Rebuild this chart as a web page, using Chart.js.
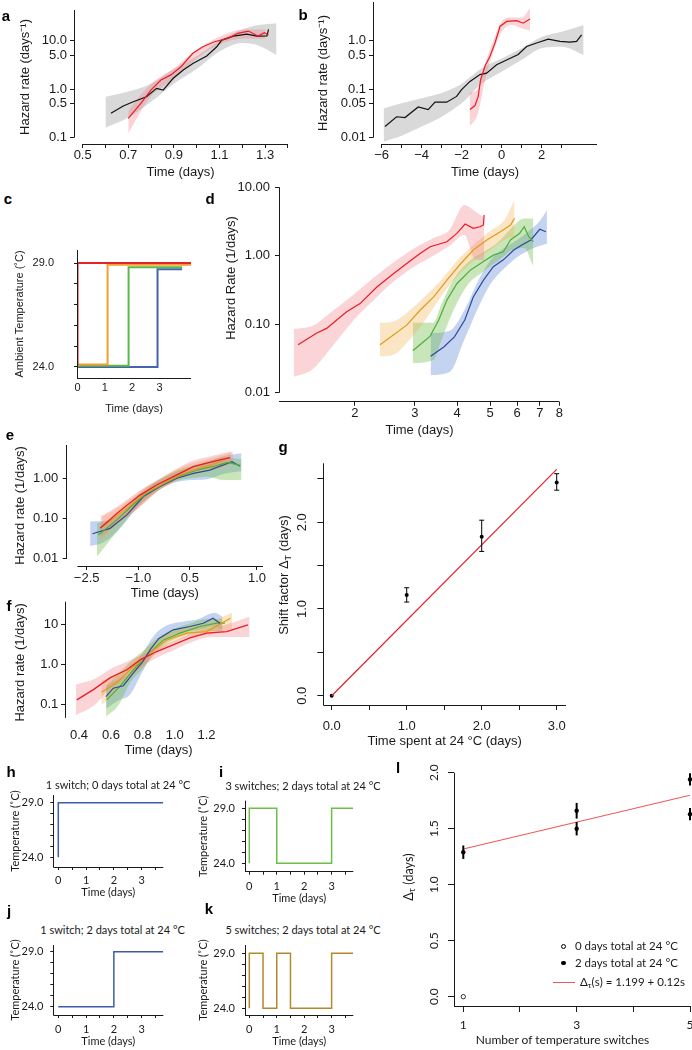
<!DOCTYPE html>
<html><head><meta charset="utf-8">
<script src="https://cdn.jsdelivr.net/npm/chart.js@4.4.1/dist/chart.umd.min.js"></script>
<style>
html,body{margin:0;padding:0;background:#fff;}
#fig{position:relative;width:692px;height:1050px;overflow:hidden;background:#fff;}
canvas{position:absolute;}
.t{position:absolute;white-space:nowrap;color:#1a1a1a;line-height:1;transform:translate(-50%,-50%);}
.r{transform:translate(-50%,-50%) rotate(-90deg);}
.A{font-family:'Liberation Sans',Arial,sans-serif;}
.M{font-family:Lato,'Open Sans',sans-serif;}
.P{font-family:'Liberation Sans',Arial,sans-serif;font-weight:bold;font-size:15px;color:#000;}
sub{font-size:70%;vertical-align:-0.25em;}
</style></head><body><div id="fig"></div>
<script>
// ---------------- data ----------------
// panel a
const aBlackX=[0.624,0.678,0.722,0.78,0.824,0.853,0.897,0.941,0.985,1.044,1.088,1.11,1.161,1.22,1.264,1.308,1.315];
const aBlackY=[0.32,0.45,0.55,0.70,1.04,0.96,1.68,2.49,3.42,4.84,7.5,10.3,12.4,13.7,12.4,12.5,17.2];
const aRedX=[0.70,0.755,0.799,0.843,0.887,0.931,0.983,1.027,1.078,1.137,1.18,1.227,1.268,1.297,1.315];
const aRedY=[0.25,0.51,0.96,1.55,1.97,2.9,5.5,7.5,9.5,11.2,14.2,15.8,12.5,14.6,13.1];
const aGrayBandX=[0.6,0.7,0.8,0.9,1.0,1.1,1.2,1.27,1.35];
const aGrayBandHi=[0.7,0.9,1.3,2.6,4.8,10,17,21,23];
const aGrayBandLo=[0.16,0.26,0.55,1.3,2.6,6.0,9.0,8.0,5.1];
const aRedBandX=[0.7,0.75,0.8,0.9,1.0,1.1,1.2,1.3];
const aRedBandHi=[0.36,0.72,1.3,2.7,6.5,12,17,17];
const aRedBandLo=[0.12,0.32,0.72,1.6,4.3,8.4,11,11];
const aXTicks=[0.5,0.6,0.7,0.8,0.9,1.0,1.1,1.2,1.3,1.4];
const aXLabels=['0.5','','0.7','','0.9','','1.1','','1.3',''];
const aYTicks=[0.1,0.5,1,5,10];
const aYLabels=['0.1','0.5','1.0','5.0','10.0'];
// panel b
const bBlackX=[-5.83,-5.25,-4.83,-4.17,-3.67,-3.33,-2.75,-2.25,-2.0,-1.58,-1.08,-0.75,-0.25,0.25,0.83,1.25,1.75,2.33,2.92,3.42,3.75,4.0];
const bBlackY=[0.017,0.027,0.026,0.043,0.038,0.054,0.054,0.071,0.098,0.145,0.2,0.215,0.32,0.4,0.52,0.76,0.9,1.08,0.97,0.94,0.97,1.32];
const bRedX=[-1.58,-1.33,-1.17,-1.05,-0.83,-0.58,-0.33,-0.08,0.25,0.75,1.08,1.42];
const bRedY=[0.038,0.046,0.071,0.157,0.30,0.48,0.9,1.97,2.5,2.6,2.3,2.8];
const bGrayBandX=[-5.9,-5,-4,-3,-2,-1,0,1,2,3,4.1];
const bGrayBandHi=[0.04,0.051,0.065,0.083,0.13,0.27,0.43,0.70,1.2,1.53,2.1];
const bGrayBandLo=[0.0083,0.011,0.017,0.027,0.051,0.13,0.23,0.40,0.70,0.75,0.51];
const bRedBandX=[-1.6,-1.2,-0.8,-0.4,0,0.5,1.0,1.42];
const bRedBandHi=[0.085,0.1,0.36,1.05,2.5,3.0,3.0,4.7];
const bRedBandLo=[0.017,0.03,0.17,0.62,1.5,2.1,1.8,1.6];
const bXTicks=[-6,-5,-4,-3,-2,-1,0,1,2,3];
const bXLabels=['\u22126','','\u22124','','\u22122','','0','','2',''];
const bYTicks=[0.01,0.05,0.1,0.5,1];
const bYLabels=['0.01','0.05','0.1','0.5','1.0'];
// panel c
const cRedX=[0,0,4.17], cRedY=[24.1,29.0,29.0];
const cOrangeX=[0,1.1,1.1,4.17], cOrangeY=[24.12,24.12,28.92,28.92];
const cGreenX=[0,1.87,1.87,3.83], cGreenY=[24.06,24.06,28.8,28.8];
const cBlueX=[0,2.93,2.93,3.83], cBlueY=[24.0,24.0,28.7,28.7];
const cXTicks=[0,1,2,3], cXLabels=['0','1','2','3'];
const cYTicks=[24,25,26,27,28,29], cYLabels=['24.0','','','','','29.0'];
// panel d
const dRedX=[1.36,1.54,1.65,1.89,2.07,2.32,2.60,2.84,3.11,3.33,3.73,3.99,4.22,4.46,4.67,4.78,4.80];
const dRedY=[0.050,0.074,0.087,0.152,0.20,0.35,0.55,0.77,1.08,1.35,1.60,2.12,2.90,2.51,2.65,2.81,3.93];
const dOrangeX=[2.37,2.60,2.84,3.11,3.41,3.73,4.10,4.46,4.89,5.36,5.74,5.9];
const dOrangeY=[0.050,0.070,0.097,0.16,0.25,0.44,0.77,1.21,1.70,2.24,2.81,3.5];
const dGreenX=[2.96,3.19,3.33,3.53,3.73,3.99,4.38,4.78,5.11,5.47,5.74,6.11,6.3,6.5,6.7];
const dGreenY=[0.041,0.056,0.067,0.115,0.225,0.39,0.62,0.82,1.02,1.14,1.70,2.12,2.65,1.89,1.6];
const dBlueX=[3.34,3.66,3.93,4.21,4.46,4.78,5.11,5.47,5.87,6.2,6.59,7.0,7.3];
const dBlueY=[0.034,0.047,0.066,0.115,0.25,0.44,0.69,0.87,1.21,1.43,1.70,2.43,2.24];
const dRedBandX=[1.32,1.5,1.7,2.0,2.3,2.6,3.0,3.4,3.8,4.2,4.5,4.8];
const dRedBandHi=[0.085,0.095,0.15,0.28,0.5,0.8,1.3,1.8,2.4,5.5,4.5,3.6];
const dRedBandLo=[0.017,0.022,0.045,0.12,0.24,0.42,0.7,1.0,1.4,2.0,0.9,0.85];
const dOrangeBandX=[2.37,2.6,2.9,3.2,3.6,4.0,4.5,5.0,5.5,5.9];
const dOrangeBandHi=[0.105,0.11,0.16,0.25,0.45,0.85,1.5,2.3,3.3,6.5];
const dOrangeBandLo=[0.034,0.036,0.06,0.11,0.26,0.5,0.85,1.2,1.7,1.9];
const dGreenBandX=[2.96,3.4,3.6,3.9,4.3,4.8,5.3,5.8,6.3,6.7];
const dGreenBandHi=[0.105,0.105,0.2,0.45,0.8,1.15,1.6,2.6,3.5,3.5];
const dGreenBandLo=[0.027,0.03,0.06,0.16,0.38,0.6,0.85,1.2,1.3,0.7];
const dBlueBandX=[3.34,3.8,4.2,4.6,5.0,5.5,6.0,6.5,7.0,7.35];
const dBlueBandHi=[0.074,0.08,0.16,0.42,0.85,1.3,1.7,2.3,3.2,4.6];
const dBlueBandLo=[0.018,0.02,0.06,0.17,0.38,0.65,0.95,1.2,1.4,1.5];
const dXTicks=[2,3,4,5,6,7,8], dXLabels=['2','3','4','5','6','7','8'];
const dYTicks=[0.01,0.1,1,10], dYLabels=['0.01','0.10','1.00','10.00'];
// panel e
const eBlueX=[-2.33,-1.82,-1.34,-0.85,-0.37,0.12,0.60,1.08,1.72,1.96];
const eBlueY=[0.041,0.056,0.12,0.35,0.62,1.0,1.33,1.6,2.6,2.0];
const eGreenX=[-2.16,-1.63,-1.2,-0.8,-0.3,0.2,0.7,1.2,1.6,1.96];
const eGreenY=[0.038,0.09,0.2,0.4,0.7,1.15,1.6,2.0,2.5,2.1];
const eOrangeX=[-2.05,-1.6,-1.2,-0.8,-0.3,0.2,0.7,1.2,1.67];
const eOrangeY=[0.06,0.12,0.22,0.42,0.72,1.2,1.7,2.3,3.3];
const eRedX=[-2.11,-1.63,-1.34,-0.95,-0.47,0.02,0.6,0.99,1.37,1.67];
const eRedY=[0.056,0.13,0.21,0.38,0.68,1.1,1.95,2.4,2.9,3.3];
const eBlueBandX=[-2.4,-2.0,-1.5,-1.0,-0.5,0,0.5,1.0,1.5,2.0];
const eBlueBandHi=[0.083,0.085,0.13,0.4,0.8,1.3,1.9,2.6,3.6,4.2];
const eBlueBandLo=[0.02,0.025,0.06,0.2,0.45,0.75,0.9,0.95,1.3,1.5];
const eGreenBandX=[-2.2,-1.8,-1.4,-1.0,-0.5,0,0.5,1.0,1.5,2.0];
const eGreenBandHi=[0.075,0.09,0.16,0.35,0.8,1.4,2.0,2.6,3.3,3.0];
const eGreenBandLo=[0.011,0.03,0.08,0.2,0.45,0.8,1.0,1.1,0.9,0.9];
const eOrangeBandX=[-2.05,-1.6,-1.2,-0.8,-0.4,0,0.5,1.0,1.5,1.7];
const eOrangeBandHi=[0.11,0.18,0.32,0.6,0.95,1.5,2.3,3.0,4.0,4.5];
const eOrangeBandLo=[0.03,0.07,0.13,0.25,0.5,0.8,1.2,1.5,2.0,2.3];
const eRedBandX=[-2.1,-1.6,-1.2,-0.8,-0.4,0,0.5,1.0,1.5,1.75];
const eRedBandHi=[0.11,0.2,0.35,0.6,0.95,1.5,2.6,3.4,4.3,4.6];
const eRedBandLo=[0.03,0.08,0.13,0.25,0.5,0.8,1.4,1.7,2.0,2.4];
const eXTicks=[-2.5,-1.0,0.5,2.45];
const eXLabels=['\u22122.5','\u22121.0','0.5','1.0'];
const eYTicks=[0.01,0.1,1], eYLabels=['0.01','0.10','1.00'];
// panel f
const fRedX=[0.386,0.49,0.594,0.70,0.783,0.887,0.99,1.096,1.2,1.326,1.46];
const fRedY=[0.133,0.24,0.47,0.75,1.33,2.15,3.16,4.7,6.2,6.8,10];
const fBlueX=[0.569,0.615,0.678,0.74,0.80,0.85,0.9,0.99,1.096,1.18,1.24,1.284];
const fBlueY=[0.16,0.26,0.30,0.62,1.2,2.5,4.5,7.5,9.1,11,14.7,11];
const fOrangeX=[0.542,0.636,0.74,0.8,0.845,0.95,1.075,1.2,1.35];
const fOrangeY=[0.21,0.35,0.9,1.35,2.0,4.2,6.2,6.8,14.7];
const fGreenX=[0.573,0.657,0.74,0.8,0.824,0.93,1.033,1.158,1.263,1.315];
const fGreenY=[0.133,0.29,0.75,1.35,1.7,4.2,6.2,9.1,11,11];
const fRedBandX=[0.38,0.5,0.6,0.7,0.8,0.9,1.0,1.1,1.2,1.3,1.47];
const fRedBandHi=[0.32,0.45,0.8,1.2,1.8,2.8,4.0,6.0,8.0,9.5,16];
const fRedBandLo=[0.055,0.1,0.28,0.5,0.95,1.6,2.4,3.6,4.8,5.0,5.0];
const fBlueBandX=[0.57,0.65,0.72,0.8,0.88,0.96,1.05,1.15,1.25,1.3];
const fBlueBandHi=[0.3,0.45,0.6,2.0,6.0,10,12,14,20,16];
const fBlueBandLo=[0.08,0.13,0.18,0.7,2.5,5,6.5,7.5,9,8];
const fGreenBandX=[0.57,0.65,0.72,0.8,0.9,1.0,1.1,1.2,1.3];
const fGreenBandHi=[0.3,0.6,1.2,2.2,5,8,11,14,14];
const fGreenBandLo=[0.05,0.1,0.35,0.8,2.5,4.5,6,7,7];
const fOrangeBandX=[0.54,0.62,0.7,0.8,0.9,1.0,1.1,1.2,1.36];
const fOrangeBandHi=[0.4,0.55,0.9,2.0,4.5,7,9,11,20];
const fOrangeBandLo=[0.1,0.18,0.4,0.9,2.2,3.8,5,5.5,8];
const fXTicks=[0.4,0.6,0.8,1.0,1.2], fXLabels=['0.4','0.6','0.8','1.0','1.2'];
const fYTicks=[0.1,1,10], fYLabels=['0.1','1.0','10'];
// panel g
const gX=[0,1,2,3], gY=[0,1.16,1.834,2.46];
const gErrLo=[0,0.08,0.17,0.09], gErrHi=[0,0.085,0.19,0.1];
const gFitX=[0,3], gFitY=[0,2.61];
const gXTicks=[0,0.5,1,1.5,2,2.5,3], gXLabels=['0.0','','1.0','','2.0','','3.0'];
const gYTicks=[0,0.5,1,1.5,2,2.5], gYLabels=['0.0','','1.0','','2.0',''];
// panels h-k (temperature protocols)
const hX=[0,0,3.78], hY=[24,29,29];
const iX=[0,0,1,1,3,3,3.78], iY=[24,29,29,24,24,29,29];
const jX=[0,2,2,3.78], jY=[24,24,29,29];
const kX=[0,0,0.5,0.5,1,1,1.5,1.5,3,3,3.78], kY=[24,29,29,24,24,29,29,24,24,29,29];
const swXTicks=[0,0.5,1,1.5,2,2.5,3,3.5], swXLabels=['0','','1','','2','','3',''];
const swYTicks=[24,25,26,27,28,29], swYLabels=['24.0','','','','','29.0'];
// panel l
const lOpenX=[1], lOpenY=[0.0];
const lX=[1,3,3,5,5], lY=[1.29,1.66,1.50,1.94,1.63], lErr=[0.06,0.07,0.06,0.055,0.055];
const lFitX=[1,5], lFitY=[1.319,1.799];
const lXTicks=[1,2,3,4,5], lXLabels=['1','','3','','5'];
const lYTicks=[0,0.5,1,1.5,2], lYLabels=['0.0','0.5','1.0','1.5','2.0'];

// ---------------- helpers ----------------
const FA="'Liberation Sans', Arial, sans-serif";
const FM="Lato, 'Open Sans', sans-serif";
const INK='#1a1a1a';
const fnt=(size,fam)=>({size:size,family:fam||FA,lineHeight:1.2,weight:'normal'});
Chart.defaults.font.family=FA;
Chart.defaults.color=INK;

const COL={red:'#ec1c24',redBand:'rgba(242,120,130,0.32)',gray:'#111',grayBand:'rgba(140,140,140,0.33)',
  orange:'#e39a1c',orangeBand:'rgba(240,175,80,0.33)',green:'#4dae3a',greenBand:'rgba(110,190,70,0.38)',
  blue:'#2c4a9c',blueBand:'rgba(100,140,215,0.38)'};

const rAxes={id:'rAxes',afterDraw(chart,args,o){
  const ctx=chart.ctx,a=chart.chartArea;ctx.save();ctx.strokeStyle=INK;ctx.lineWidth=1;ctx.beginPath();
  if(o.x){const s=chart.scales.x,y=Math.round(a.bottom-0.5)+0.5;ctx.moveTo(s.getPixelForValue(o.x[0]),y);ctx.lineTo(s.getPixelForValue(o.x[1]),y);}
  if(o.y){const s=chart.scales.y,x=Math.round(a.left-0.5)+0.5;ctx.moveTo(x,s.getPixelForValue(o.y[0]));ctx.lineTo(x,s.getPixelForValue(o.y[1]));}
  ctx.stroke();ctx.restore();}};
const errBars={id:'errBars',afterDatasetsDraw(chart){
  const ctx=chart.ctx;
  chart.data.datasets.forEach(ds=>{ if(!ds.errLo) return;
    const xs=chart.scales.x,ys=chart.scales.y;ctx.save();ctx.strokeStyle='#000';ctx.lineWidth=ds.errWidth||1;
    ds.data.forEach((p,i)=>{const lo=ds.errLo[i],hi=ds.errHi[i]; if(!lo&&!hi) return;
      const px=xs.getPixelForValue(p.x),y1=ys.getPixelForValue(p.y-lo),y2=ys.getPixelForValue(p.y+hi);
      ctx.beginPath();ctx.moveTo(px,y1);ctx.lineTo(px,y2);
      if(ds.capW){ctx.moveTo(px-ds.capW,y1);ctx.lineTo(px+ds.capW,y1);ctx.moveTo(px-ds.capW,y2);ctx.lineTo(px+ds.capW,y2);}
      ctx.stroke();});
    ctx.restore();});}};
Chart.register(rAxes,errBars);

const pts=(X,Y)=>X.map((x,i)=>({x:x,y:Y[i]}));
const line=(X,Y,c,w)=>({data:pts(X,Y),borderColor:c,borderWidth:w||1.2,pointRadius:0,fill:false,tension:0});
const band=(X,lo,hi,c)=>[
  {data:pts(X,lo),borderColor:'transparent',borderWidth:0,pointRadius:0,fill:false,tension:0.4,cubicInterpolationMode:'monotone'},
  {data:pts(X,hi),borderColor:'transparent',borderWidth:0,pointRadius:0,fill:'-1',backgroundColor:c,tension:0.4,cubicInterpolationMode:'monotone'}];

function axis(o){
  return {type:o.type||'linear',min:o.min,max:o.max,
    afterBuildTicks:s=>{s.ticks=o.ticks.map(v=>({value:v}));},
    grid:{display:true,drawOnChartArea:false,drawTicks:(o.tl||0)>0,tickLength:o.tl||0,color:INK,lineWidth:1},
    border:{display:false},
    ticks:{autoSkip:false,minRotation:o.rot||0,maxRotation:o.rot||0,padding:o.pad||0,color:INK,font:o.font,
      crossAlign:o.rot?'center':'near',callback:(v,i)=>o.labels[i]},
    title:o.title?{display:true,text:o.title,color:INK,font:o.tfont||o.font,padding:{top:o.tpad||0,bottom:o.tpad||0}}:{display:false}};
}
const fig=document.getElementById('fig');
function mk(area,marg,datasets,xs,ys,ax){
  const [L,T,R,B]=area,[ml,mt,mr,mb]=marg;
  const cl=Math.floor(L-ml),ct=Math.floor(T-mt),cw=Math.ceil(R+mr)-cl,ch=Math.ceil(B+mb)-ct;
  const c=document.createElement('canvas');c.width=cw;c.height=ch;
  c.style.left=cl+'px';c.style.top=ct+'px';c.style.width=cw+'px';c.style.height=ch+'px';fig.appendChild(c);
  xs.afterFit=s=>{s.height=ct+ch-B;s.paddingLeft=0;s.paddingRight=0;s.paddingTop=0;s.paddingBottom=0;};
  ys.afterFit=s=>{s.width=L-cl;s.paddingLeft=0;s.paddingRight=0;s.paddingTop=0;s.paddingBottom=0;};
  return new Chart(c,{type:'line',data:{datasets:datasets},options:{animation:false,responsive:false,devicePixelRatio:1,
    layout:{padding:{top:T-ct,right:cl+cw-R,left:0,bottom:0},autoPadding:false},
    plugins:{legend:{display:false},tooltip:{enabled:false},rAxes:ax||{}},
    scales:{x:xs,y:ys}}});
}
function txt(html,x,y,cls,size,rot){
  const d=document.createElement('div');d.className='t '+cls+(rot?' r':'');d.innerHTML=html;
  d.style.left=x+'px';d.style.top=y+'px';if(size)d.style.fontSize=size+'px';fig.appendChild(d);return d;
}

// ---------------- panel a ----------------
mk([74,10,287,144],[74,10,13,36],
  [line(aRedX,aRedY,COL.red),line(aBlackX,aBlackY,COL.gray),
   ...band(aRedBandX,aRedBandLo,aRedBandHi,COL.redBand),...band(aGrayBandX,aGrayBandLo,aGrayBandHi,COL.grayBand)],
  axis({min:0.462,max:1.396,ticks:aXTicks,labels:aXLabels,tl:4,pad:0,font:fnt(13),title:'Time (days)',tpad:0}),
  axis({type:'logarithmic',min:0.074,max:43,ticks:aYTicks,labels:aYLabels,tl:4,pad:3,font:fnt(13),title:'Hazard rate (days\u207B\u00B9)',tpad:17.2}),
  {x:[0.5,1.4],y:[0.1,43]});
// ---------------- panel b ----------------
mk([373,2,597,144],[73,2,95,36],
  [line(bRedX,bRedY,COL.red),line(bBlackX,bBlackY,COL.gray),
   ...band(bRedBandX,bRedBandLo,bRedBandHi,COL.redBand),...band(bGrayBandX,bGrayBandLo,bGrayBandHi,COL.grayBand)],
  axis({min:-6.43,max:4.77,ticks:bXTicks,labels:bXLabels,tl:4,pad:0,font:fnt(13),title:'Time (days)',tpad:0}),
  axis({type:'logarithmic',min:0.0074,max:6.3,ticks:bYTicks,labels:bYLabels,tl:4,pad:3,font:fnt(13),title:'Hazard rate (days\u207B\u00B9)',tpad:15.2}),
  {x:[-6,4.77],y:[0.01,6.3]});
// ---------------- panel c ----------------
mk([77,250,191,378],[77,12,10,38],
  [line(cRedX,cRedY,'#e4232a',2),line(cOrangeX,cOrangeY,'#f3a031',2),line(cGreenX,cGreenY,'#5cb848',2),line(cBlueX,cBlueY,'#4465ad',2)],
  axis({min:-0.02,max:4.156,ticks:cXTicks,labels:cXLabels,tl:0,pad:3.7,font:fnt(11),title:'Time (days)',tpad:0}),
  axis({min:23.47,max:29.63,ticks:cYTicks,labels:cYLabels,tl:3,pad:20,font:fnt(11),title:'Ambient Temperature (\u02DAC)',tpad:13.4}),
  {x:[-0.02,4.156],y:[23.47,29.63]});
// ---------------- panel d ----------------
mk([279,187.2,560,401.7],[69,12,20,36],
  [line(dRedX,dRedY,COL.red),line(dOrangeX,dOrangeY,COL.orange),line(dGreenX,dGreenY,COL.green),line(dBlueX,dBlueY,COL.blue),
   ...band(dRedBandX,dRedBandLo,dRedBandHi,COL.redBand),...band(dOrangeBandX,dOrangeBandLo,dOrangeBandHi,COL.orangeBand),
   ...band(dGreenBandX,dGreenBandLo,dGreenBandHi,COL.greenBand),...band(dBlueBandX,dBlueBandLo,dBlueBandHi,COL.blueBand)],
  axis({type:'logarithmic',min:1.195,max:8.03,ticks:dXTicks,labels:dXLabels,tl:4,pad:0,font:fnt(13),title:'Time (days)',tpad:0}),
  axis({type:'logarithmic',min:0.0074,max:10,ticks:dYTicks,labels:dYLabels,tl:4,pad:5,font:fnt(13)}),
  {x:[1.195,8],y:[0.01,10]});
txt('Hazard Rate (1/days)',230,277.5,'A',13,true);
// ---------------- panel e ----------------
mk([66.7,445,263,566],[66.7,10,12,35],
  [line(eRedX,eRedY,COL.red,1.3),line(eOrangeX,eOrangeY,COL.orange),line(eGreenX,eGreenY,COL.green),line(eBlueX,eBlueY,COL.blue),
   ...band(eRedBandX,eRedBandLo,eRedBandHi,COL.redBand),...band(eOrangeBandX,eOrangeBandLo,eOrangeBandHi,COL.orangeBand),
   ...band(eGreenBandX,eGreenBandLo,eGreenBandHi,COL.greenBand),...band(eBlueBandX,eBlueBandLo,eBlueBandHi,COL.blueBand)],
  axis({min:-3.081,max:2.625,ticks:eXTicks,labels:eXLabels,tl:4,pad:0.5,font:fnt(13),title:'Time (days)',tpad:0}),
  axis({type:'logarithmic',min:0.0064,max:6.8,ticks:eYTicks,labels:eYLabels,tl:4,pad:4.4,font:fnt(13),title:'Hazard rate (1/days)',tpad:12.9}),
  {x:[-2.77,2.625],y:[0.01,6.8]});
// ---------------- panel f ----------------
mk([65,601.7,252,723],[65,10,12,35],
  [line(fRedX,fRedY,COL.red,1.3),line(fBlueX,fBlueY,COL.blue),line(fOrangeX,fOrangeY,COL.orange),line(fGreenX,fGreenY,COL.green),
   ...band(fRedBandX,fRedBandLo,fRedBandHi,COL.redBand),...band(fOrangeBandX,fOrangeBandLo,fOrangeBandHi,COL.orangeBand),
   ...band(fGreenBandX,fGreenBandLo,fGreenBandHi,COL.greenBand),...band(fBlueBandX,fBlueBandLo,fBlueBandHi,COL.blueBand)],
  axis({min:0.312,max:1.485,ticks:fXTicks,labels:fXLabels,tl:0,pad:4.2,font:fnt(13),title:'Time (days)',tpad:0}),
  axis({type:'logarithmic',min:0.035,max:38,ticks:fYTicks,labels:fYLabels,tl:4,pad:2.7,font:fnt(13),title:'Hazard rate (1/days)',tpad:12.2}),
  {y:[0.047,38]});
// ---------------- panel g ----------------
mk([323.3,463.3,566,705],[43.3,10,10,45],
  [line(gFitX,gFitY,'#e2202d',1.2),
   {data:pts(gX,gY),showLine:false,pointRadius:2,pointBackgroundColor:'#000',pointBorderColor:'#000',borderWidth:0,errLo:gErrLo,errHi:gErrHi,capW:2.5,errWidth:1}],
  axis({min:-0.112,max:3.124,ticks:gXTicks,labels:gXLabels,tl:5,pad:8.2,font:fnt(13),title:'Time spent at 24 \u00B0C (days)',tpad:0.5}),
  axis({min:-0.107,max:2.68,ticks:gYTicks,labels:gYLabels,tl:6,pad:5.6,font:fnt(13),rot:90}),
  {x:[-0.112,3.124],y:[-0.107,2.68]});
txt('Shift factor \u0394<sub>T</sub> (days)',285,575,'A',13,true);
// ---------------- panels h-k ----------------
function sw(area,marg,X,Y,col,ymin,ymax,xmin,xmax,xpad,xtpad,ytpad){
  mk(area,marg,[line(X,Y,col,1.5)],
    axis({min:xmin,max:xmax,ticks:swXTicks,labels:swXLabels,tl:3,pad:xpad,font:fnt(11,FM),title:'Time (days)',tfont:fnt(11,FM),tpad:xtpad}),
    axis({min:ymin,max:ymax,ticks:swYTicks,labels:swYLabels,tl:3,pad:7,font:fnt(11,FM),title:'Temperature (\u02DAC)',tfont:fnt(11,FM),tpad:ytpad}),
    {x:[xmin,xmax],y:[ymin,ymax]});
}
sw([53.3,795,163.3,867],[53.3,8,10,33],hX,hY,'#3d5ca8',23.11,29.7,-0.18,3.78,3.4,0.7,8.4);
sw([245,800.7,353.3,871.7],[55,8,10,33],iX,iY,'#6cbf45',23.24,29.69,-0.157,3.79,5.4,0.4,6.7);
sw([53.3,945,163.3,1015],[53.3,8,10,34],jX,jY,'#3d5ca8',23.25,29.61,-0.18,3.78,4.4,0.7,8.4);
sw([245,945,353.3,1015],[55,8,10,34],kX,kY,'#b2892c',23.39,29.75,-0.157,3.79,4.4,0.7,6.7);
txt('1 switch; 0 days total at 24 \u00B0C',118,783.5,'M',11);
txt('3 switches; 2 days total at 24 \u00B0C',303,784.5,'M',11);
txt('1 switch; 2 days total at 24 \u00B0C',112.5,929.3,'M',11);
txt('5 switches; 2 days total at 24 \u00B0C',303,929.3,'M',11);
// ---------------- panel l ----------------
mk([454,772.7,690,1006],[60,12,2,30],
  [line(lFitX,lFitY,'#f0585c',1.2),
   {data:pts(lX,lY),showLine:false,pointRadius:2.2,pointBackgroundColor:'#000',pointBorderColor:'#000',borderWidth:0,clip:false,
    errLo:lErr,errHi:lErr,errWidth:2},
   {data:pts(lOpenX,lOpenY),showLine:false,pointRadius:2.2,pointBackgroundColor:'#fff',pointBorderColor:'#000',pointBorderWidth:0.8,clip:false}],
  axis({min:0.836,max:5.0,ticks:lXTicks,labels:lXLabels,tl:6,pad:5.8,font:fnt(12,FM)}),
  axis({min:-0.083,max:2.0,ticks:lYTicks,labels:lYLabels,tl:6,pad:5,font:fnt(12,FM),rot:90}),
  {x:[0.836,5.0],y:[-0.083,2.0]});
txt('Number of temperature switches',562.5,1040,'M',12);
txt('\u0394<sub>\u03C4</sub> (days)',410,876.7,'M',12.5,true);
// legend l
(function(){
  const o=document.createElement('div');o.style.cssText='position:absolute;left:561px;top:944px;width:5px;height:5px;border:1px solid #000;border-radius:50%;box-sizing:border-box;';fig.appendChild(o);
  const p=document.createElement('div');p.style.cssText='position:absolute;left:561px;top:960.5px;width:4.5px;height:4.5px;background:#000;border-radius:50%;';fig.appendChild(p);
  const r=document.createElement('div');r.style.cssText='position:absolute;left:553px;top:982px;width:22px;height:1.2px;background:#f0585c;';fig.appendChild(r);
  const t1=txt('0 days total at 24 \u00B0C',575,946,'M',11.5);t1.style.transform='translate(0,-50%)';
  const t2=txt('2 days total at 24 \u00B0C',575,962.7,'M',11.5);t2.style.transform='translate(0,-50%)';
  const t3=txt('\u0394<sub>\u03C4</sub>(s) = 1.199 + 0.12s',580,982.7,'M',11.5);t3.style.transform='translate(0,-50%)';
})();
// panel letters
[['a',6,15],['b',303,14],['c',8,198],['d',210,198],['e',10,434],['f',9,605],['g',283,446],
 ['h',11,771],['i',221,771],['j',9,910],['k',209,908],['l',398,767]].forEach(p=>txt(p[0],p[1],p[2],'P'));
</script></body></html>
